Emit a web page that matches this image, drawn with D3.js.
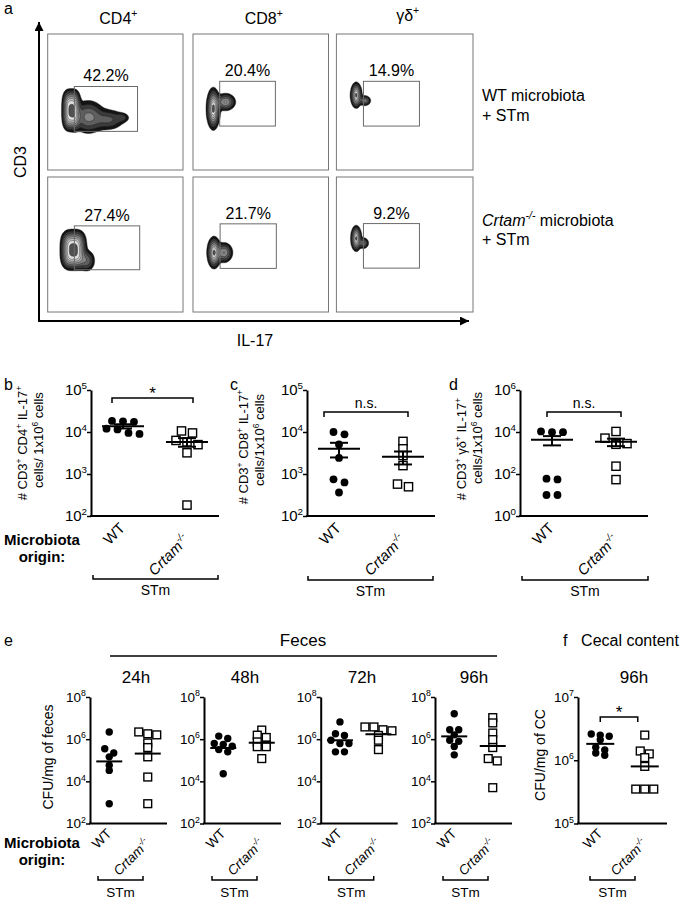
<!DOCTYPE html>
<html>
<head>
<meta charset="utf-8">
<script src="https://cdn.jsdelivr.net/npm/d3@7"></script>
<style>
body { margin: 0; background: #fff; }
svg { font-family: "Liberation Sans", Arial, sans-serif; }
</style>
</head>
<body>
<svg id="fig" width="683" height="900"></svg>
<script>
// ---------- data ----------
// panel a: flow plots (IL-17 vs CD3), plot units 0-1 on both axes
var flowCols = ["CD4", "CD8", "γδ"];
var flowPct = [["42.2%", "20.4%", "14.9%"], ["27.4%", "21.7%", "9.2%"]];
// gates: [x0, x1, y0, y1]
var flowGates = [
    [[0.197, 0.664, 0.284, 0.614], [0.197, 0.608, 0.323, 0.652], [0.198, 0.608, 0.323, 0.652]],
    [[0.197, 0.68, 0.313, 0.638], [0.2, 0.615, 0.323, 0.653], [0.198, 0.608, 0.325, 0.655]]
];
// populations as density components: [cx, cy, sx, sy, weight, power]
var flowPops = [
    [
        [[0.175, 0.44, 0.04, 0.088, 1, 3], [0.3, 0.39, 0.06, 0.06, 0.4, 2], [0.45, 0.37, 0.06, 0.04, 0.25, 2], [0.55, 0.385, 0.03, 0.02, 0.15, 2]],
        [[0.15, 0.45, 0.022, 0.065, 1, 2], [0.24, 0.5, 0.035, 0.03, 0.5, 2]],
        [[0.145, 0.55, 0.018, 0.04, 1, 2], [0.21, 0.51, 0.02, 0.018, 0.4, 2]]
    ],
    [
        [[0.19, 0.46, 0.055, 0.085, 1, 3], [0.29, 0.38, 0.03, 0.04, 0.3, 2]],
        [[0.155, 0.44, 0.022, 0.05, 1, 2], [0.23, 0.44, 0.03, 0.035, 0.5, 2]],
        [[0.145, 0.545, 0.017, 0.04, 1, 2], [0.2, 0.51, 0.018, 0.02, 0.35, 2]]
    ]
];

// panels b-d: cells per 1x10^6 cells
var groups = ["WT", "Crtam"];
var cd4WT = [18400, 18000, 17500, 12000, 11500, 9500, 9000];
var cd4KO = [10600, 9500, 6300, 5800, 5000, 3200, 182];
var cd8WT = [10000, 8800, 5060, 2420, 745, 630, 363];
var cd8KO = [5970, 3980, 2750, 1585, 575, 497];
var gdWT = [10600, 9800, 9800, 60, 55, 10, 10];
var gdKO = [10600, 5100, 2950, 2800, 2600, 235, 54];
var bTicks = [2, 3, 4, 5];
var dTicks = [0, 2, 4, 6];

// panel e: CFU/mg of feces, panel f: CFU/mg of cecal content
var times = ["24h", "48h", "72h", "96h"];
var fecesWT = [
    [2.2e6, 3.5e5, 2.2e5, 1.45e5, 5.8e4, 3.3e4, 870],
    [1.4e6, 1.07e6, 6.3e5, 5.6e5, 4.6e5, 3.2e5, 2.5e5, 2.3e4],
    [6.6e6, 1.8e6, 1.5e6, 8.9e5, 6.2e5, 6.2e5, 2.5e5, 2.5e5],
    [1.6e7, 2.8e6, 2.8e6, 1.6e6, 8.9e5, 7.9e5, 4.5e5, 1.8e5]
];
var fecesKO = [
    [2.2e6, 1.8e6, 1.6e6, 6.6e5, 4e5, 1.45e5, 1.6e4, 870],
    [2.7e6, 1.55e6, 1.2e6, 7.4e5, 5.2e5, 4.4e5, 4.4e5, 1.2e5],
    [3.8e6, 3.8e6, 2.8e6, 2.5e6, 1.5e6, 8.9e5, 3.2e5],
    [1.05e7, 5.9e6, 1.95e6, 9.5e5, 4e5, 1.2e5, 9.3e4, 5e3]
];
var ccWT = [2.6e6, 2.5e6, 2.4e6, 2.1e6, 1.6e6, 1.45e6, 1.3e6, 1.2e6];
var ccKO = [2.5e6, 1.4e6, 1.26e6, 1.1e6, 8e5, 3.5e5, 3.5e5, 3.5e5];
var eTicks = [2, 4, 6, 8];
var fTicks = [5, 6, 7];

// ---------- helpers ----------
var svg = d3.select("#fig");

// parts: [text, flag] flag: "s" sup, "i" italic, "is" italic sup
function rich(text, parts, fs) {
    var shift = 0;
    parts.forEach(function (p) {
        var f = p[1] || "";
        var ts = text.append("tspan").text(p[0]);
        var target = f.indexOf("s") >= 0 ? -fs * 0.42 : 0;
        if (target !== shift) {
            ts.attr("dy", target - shift);
            shift = target;
        }
        if (f.indexOf("s") >= 0) ts.attr("font-size", fs * 0.65);
        if (f.indexOf("i") >= 0) ts.attr("font-style", "italic");
    });
    return text;
}

function label(x, y, parts, fs, opts) {
    opts = opts || {};
    var t = svg.append("text").attr("font-size", fs)
        .attr("text-anchor", opts.anchor || "start");
    if (opts.rotate) t.attr("transform", "translate(" + x + "," + y + ") rotate(" + opts.rotate + ")");
    else t.attr("x", x).attr("y", y);
    if (opts.bold) t.attr("font-weight", "bold");
    return rich(t, parts, fs);
}

// prism-like column scatter: points in rows, rows spread symmetrically
function swarm(vals, y, cx, sp, gap) {
    var pts = vals.map(function (v) {
        return { v: v, py: y(v) };
    }).sort(function (a, b) {
        return a.py - b.py;
    });
    var rows = [];
    pts.forEach(function (p) {
        var row = rows[rows.length - 1];
        if (row && p.py - row[0].py < gap) row.push(p);
        else rows.push([p]);
    });
    rows.forEach(function (row) {
        row.forEach(function (p, i) {
            p.px = cx + (i - (row.length - 1) / 2) * sp;
        });
    });
    return pts;
}

// ---------- panel a ----------
var boxX = [[47.7, 183], [193, 328.5], [336.4, 473]];
var boxY = [[34, 170], [177, 312]];
var n = 120;
var levels = [0.05, 0.12, 0.22, 0.34, 0.48, 0.62, 0.76, 0.92];
var shades = ["#141414", "#3a3a3a", "#5e5e5e", "#858585", "#a8a8a8", "#c6c6c6", "#e0e0e0", "#505050"];

function densityGrid(pop) {
    var grid = new Float64Array(n * n), max = 0;
    for (var j = 0; j < n; j++) {
        for (var i = 0; i < n; i++) {
            var fx = (i + 0.5) / n, fy = 1 - (j + 0.5) / n, s = 0;
            pop.forEach(function (c) {
                var q = Math.pow(Math.abs(fx - c[0]) / c[2], c[5]) + Math.pow(Math.abs(fy - c[1]) / c[3], c[5]);
                s += c[4] * Math.exp(-q / 2);
            });
            grid[j * n + i] = s;
            if (s > max) max = s;
        }
    }
    for (var k = 0; k < grid.length; k++) grid[k] /= max;
    return grid;
}

var defs = svg.append("defs");
defs.append("marker").attr("id", "arr").attr("viewBox", "0 0 10 10")
    .attr("refX", 10).attr("refY", 5).attr("markerWidth", 5).attr("markerHeight", 4.5)
    .attr("orient", "auto").append("path").attr("d", "M0,0L10,5L0,10z");

flowPct.forEach(function (row, r) {
    row.forEach(function (pct, c) {
        var fx = d3.scaleLinear([0, 1], boxX[c]);
        var fy = d3.scaleLinear([0, 1], [boxY[r][1], boxY[r][0]]);
        var cell = svg.append("g");
        var clipId = "clip" + r + c;
        defs.append("clipPath").attr("id", clipId).append("rect")
            .attr("x", boxX[c][0]).attr("y", boxY[r][0])
            .attr("width", boxX[c][1] - boxX[c][0]).attr("height", boxY[r][1] - boxY[r][0]);
        var path = d3.geoPath(d3.geoTransform({
            point: function (x, y) {
                this.stream.point(fx(x / n), fy(1 - y / n));
            }
        }));
        var cs = d3.contours().size([n, n]).thresholds(levels)(densityGrid(flowPops[r][c]));
        cell.append("g").attr("clip-path", "url(#" + clipId + ")")
            .selectAll("path").data(cs).enter().append("path")
            .attr("d", path)
            .attr("fill", function (d, i) { return shades[i]; })
            .attr("stroke", "#1a1a1a").attr("stroke-width", 0.4);
        cell.append("rect")
            .attr("x", boxX[c][0]).attr("y", boxY[r][0])
            .attr("width", boxX[c][1] - boxX[c][0]).attr("height", boxY[r][1] - boxY[r][0])
            .attr("fill", "none").attr("stroke", "#777").attr("stroke-width", 1);
        var gt = flowGates[r][c];
        cell.append("rect")
            .attr("x", fx(gt[0])).attr("y", fy(gt[3]))
            .attr("width", fx(gt[1]) - fx(gt[0])).attr("height", fy(gt[2]) - fy(gt[3]))
            .attr("fill", "none").attr("stroke", "#6a6a6a").attr("stroke-width", 1);
        cell.append("text").attr("x", (fx(gt[0]) + fx(gt[1])) / 2).attr("y", fy(gt[3]) - 5)
            .attr("text-anchor", "middle").attr("font-size", 16).text(pct);
    });
});

flowCols.forEach(function (name, c) {
    label((boxX[c][0] + boxX[c][1]) / 2 + 3, c === 2 ? 21 : 24, [[name], ["+", "s"]], 16, { anchor: "middle" });
});
label(4, 14, [["a"]], 16);
svg.append("line").attr("x1", 39).attr("y1", 321).attr("x2", 39).attr("y2", 22)
    .attr("stroke", "#000").attr("stroke-width", 2).attr("marker-end", "url(#arr)");
svg.append("line").attr("x1", 38).attr("y1", 321).attr("x2", 469).attr("y2", 321)
    .attr("stroke", "#000").attr("stroke-width", 2).attr("marker-end", "url(#arr)");
label(26, 162, [["CD3"]], 16, { anchor: "middle", rotate: -90 });
label(255, 346, [["IL-17"]], 16, { anchor: "middle" });
label(482, 101, [["WT microbiota"]], 16);
label(482, 121, [["+ STm"]], 16);
label(482, 226, [["Crtam", "i"], ["-/-", "is"], [" microbiota"]], 16);
label(482, 245, [["+ STm"]], 16);

// ---------- dot plots ----------
function dotPanel(c) {
    var g = svg.append("g");
    var y = d3.scaleLog().domain(c.yDom).range([c.yBot, c.yTop]);
    var x = d3.scalePoint().domain(groups).range([c.x0, c.x0 + c.len]).padding(0.5);

    g.append("g").attr("transform", "translate(" + c.x0 + ",0)")
        .call(d3.axisLeft(y).tickValues(c.ticks.map(function (e) { return Math.pow(10, e); }))
            .tickSize(4).tickSizeOuter(0).tickFormat(""))
        .call(function (a) {
            a.select(".domain").attr("stroke-width", 2);
            a.selectAll(".tick line").attr("stroke-width", 1.5);
        });
    g.append("line").attr("x1", c.x0 - 1).attr("x2", c.x0 + c.len)
        .attr("y1", c.yBot).attr("y2", c.yBot).attr("stroke", "#000").attr("stroke-width", 2);
    c.ticks.forEach(function (e) {
        label(c.x0 - 4, y(Math.pow(10, e)) + c.fs * 0.36, [["10"], [String(e), "s"]], c.fs, { anchor: "end" });
    });

    // points
    var wtPts = swarm(c.wt, y, x(groups[0]), c.sp, c.gap);
    var koPts = swarm(c.ko, y, x(groups[1]), c.sp, c.gap);
    g.selectAll(null).data(wtPts).enter().append("circle")
        .attr("cx", function (d) { return d.px; })
        .attr("cy", function (d) { return d.py; })
        .attr("r", c.r).attr("fill", "#000");
    g.selectAll(null).data(koPts).enter().append("rect")
        .attr("x", function (d) { return d.px - c.sq / 2; })
        .attr("y", function (d) { return d.py - c.sq / 2; })
        .attr("width", c.sq).attr("height", c.sq)
        .attr("fill", "#fff").attr("stroke", "#000").attr("stroke-width", 1.4);

    // mean +/- SEM, or geometric mean
    [c.wt, c.ko].forEach(function (vals, k) {
        var cx = x(groups[k]);
        function hline(v, w) {
            g.append("line").attr("x1", cx - w).attr("x2", cx + w)
                .attr("y1", y(v)).attr("y2", y(v)).attr("stroke", "#000").attr("stroke-width", 2);
        }
        if (c.stat === "sem") {
            var m = d3.mean(vals), se = d3.deviation(vals) / Math.sqrt(vals.length);
            hline(m, c.mw);
            hline(m + se, c.cw);
            hline(m - se, c.cw);
            g.append("line").attr("x1", cx).attr("x2", cx)
                .attr("y1", y(m + se)).attr("y2", y(m - se)).attr("stroke", "#000").attr("stroke-width", 2);
        } else {
            hline(Math.pow(10, d3.mean(vals, function (v) { return Math.log10(v); })), c.mw);
        }
    });

    // category labels
    groups.forEach(function (name, k) {
        label(x(name) + 3, c.yBot + c.labDy[k], k === 0 ? [["WT"]] : [["Crtam", "i"], ["-/-", "is"]], c.lfs,
            { anchor: "end", rotate: -45 });
    });

    // significance bracket
    if (c.sig) {
        var sx0 = x(groups[0]) + c.sig[0], sx1 = x(groups[1]) + c.sig[1], sy = c.sig[2];
        g.append("path").attr("d", "M" + sx0 + "," + (sy + 5) + "V" + sy + "H" + sx1 + "V" + (sy + 5))
            .attr("fill", "none").attr("stroke", "#000").attr("stroke-width", 1.5);
        var star = c.sig[3] === "*";
        label((sx0 + sx1) / 2, star ? sy + 1 : sy - 4, [[c.sig[3]]], star ? 17 : 14, { anchor: "middle" });
    }

    // STm brace
    var b0 = c.x0 + c.brace[0], b1 = c.x0 + c.brace[1], by = c.brace[2];
    g.append("path").attr("d", "M" + b0 + "," + (by - 4) + "V" + by + "H" + b1 + "V" + (by - 4))
        .attr("fill", "none").attr("stroke", "#000").attr("stroke-width", 1.5);
    label((b0 + b1) / 2, c.brace[3], [["STm"]], c.stmFs, { anchor: "middle" });

    // y label
    c.yLab.forEach(function (ln) {
        label(ln[0], ln[1], ln[2], c.yfs, { anchor: "middle", rotate: -90 });
    });
}

var bdBase = { len: 128, yTop: 390, yBot: 516, stat: "sem", mw: 21, cw: 9, r: 3.9, sq: 8.2, sp: 11, gap: 6,
    fs: 15, lfs: 15, labDy: [13, 25], stmFs: 14, yfs: 13 };

dotPanel(Object.assign({}, bdBase, {
    x0: 91, yDom: [1e2, 1e5], ticks: bTicks, wt: cd4WT, ko: cd4KO,
    sig: [-11, 6, 398, "*"], brace: [2, 127, 579, 595],
    yLab: [[27, 443, [["# CD3"], ["+", "s"], [" CD4"], ["+", "s"], [" IL-17"], ["+", "s"]]],
        [43, 440, [["cells/ 1x10"], ["6", "s"], [" cells"]]]]
}));
dotPanel(Object.assign({}, bdBase, {
    x0: 307, yDom: [1e2, 1e5], ticks: bTicks, wt: cd8WT, ko: cd8KO,
    sig: [-15, 5, 412, "n.s."], brace: [1, 126, 580, 596],
    yLab: [[248, 447, [["# CD3"], ["+", "s"], [" CD8"], ["+", "s"], [" IL-17"], ["+", "s"]]],
        [264, 440, [["cells/1x10"], ["6", "s"], [" cells"]]]]
}));
dotPanel(Object.assign({}, bdBase, {
    x0: 520, yDom: [1, 1e6], ticks: dTicks, wt: gdWT, ko: gdKO,
    sig: [-5, 5, 412, "n.s."], brace: [2, 128, 580, 596],
    yLab: [[466, 449, [["# CD3"], ["+", "s"], [" γδ"], ["+", "s"], [" IL-17"], ["+", "s"]]],
        [482, 438, [["cells/1x10"], ["6", "s"], [" cells"]]]]
}));

label(4, 390, [["b"]], 16);
label(230, 390, [["c"]], 16);
label(449, 390, [["d"]], 16);
label(42, 545, [["Microbiota"]], 15, { anchor: "middle", bold: true });
label(42, 562, [["origin:"]], 15, { anchor: "middle", bold: true });

// ---------- panels e, f ----------
var efBase = { len: 77, yTop: 697, yBot: 823.5, stat: "gmean", mw: 13, r: 3.7, sq: 7.8, sp: 9, gap: 4.5,
    fs: 13.5, lfs: 13.5, labDy: [11, 21], stmFs: 13.5, yfs: 14, yLab: [] };
var eAxisX = [90, 204, 320.7, 435];
var eTitleX = [136, 245, 362, 474];

times.forEach(function (t, i) {
    dotPanel(Object.assign({}, efBase, {
        x0: eAxisX[i], yDom: [1e2, 1e8], ticks: eTicks, wt: fecesWT[i], ko: fecesKO[i],
        brace: [8, 53, 880, 897],
        yLab: i === 0 ? [[53, 757, [["CFU/mg of feces"]]]] : []
    }));
    label(eTitleX[i], 683, [[t]], 17, { anchor: "middle" });
});

dotPanel(Object.assign({}, efBase, {
    x0: 578, len: 89, yDom: [1e5, 1e7], ticks: fTicks, wt: ccWT, ko: ccKO, mw: 14,
    sig: [0, -7, 717, "*"], brace: [12, 57, 880, 897],
    yLab: [[545, 755, [["CFU/mg of CC"]]]]
}));
label(634, 683, [["96h"]], 17, { anchor: "middle" });

label(4, 646, [["e"]], 16);
label(303, 646, [["Feces"]], 17, { anchor: "middle" });
svg.append("line").attr("x1", 110).attr("x2", 497).attr("y1", 656).attr("y2", 656)
    .attr("stroke", "#000").attr("stroke-width", 1.5);
label(563, 646, [["f"]], 16);
label(630, 646, [["Cecal content"]], 16, { anchor: "middle" });
label(42, 848, [["Microbiota"]], 15, { anchor: "middle", bold: true });
label(42, 865, [["origin:"]], 15, { anchor: "middle", bold: true });
</script>
</body>
</html>
